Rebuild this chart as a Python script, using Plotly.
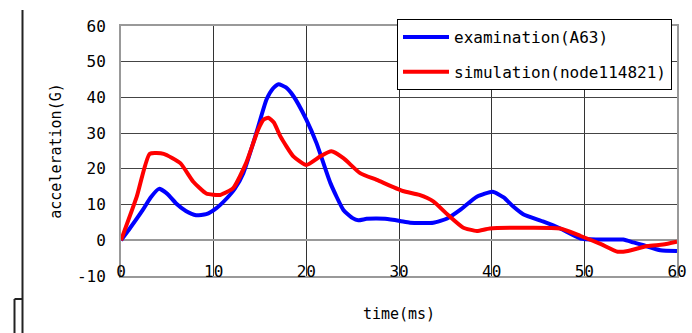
import plotly.graph_objects as go

# ---- data ----
exam_t = [0, 1, 2.35, 3.2, 4.1, 5.0, 5.95, 7.0, 8.1, 9.2, 10.3, 11.4, 12.3, 13.2, 14.6, 15.7, 16.4, 17.0,
          17.8, 18.6, 20.0, 21.1, 22.6, 24.0, 25.0, 25.6, 26.5, 27.6, 28.5, 30.1, 31.2, 33.7, 35.2, 36.6,
          38.4, 40.1, 41.3, 42.3, 43.4, 45.6, 47.4, 49.6, 51.4, 54.2, 55.3, 56.4, 58.2, 60]
exam_v = [0, 3.5, 8.5, 12, 14.4, 13, 10.3, 8.2, 7.0, 7.3, 9, 11.7, 14.5, 18.8, 30, 39.4, 42.5, 43.7,
          42.8, 40.4, 33.8, 27.2, 16, 8.5, 6.2, 5.6, 6.0, 6.1, 6.0, 5.4, 4.9, 4.9, 6.1, 8.5,
          12.2, 13.6, 12, 9.5, 7.3, 5.2, 3.3, 0.5, 0.2, 0.2, -0.6, -1.4, -2.8, -3]

sim_t = [0, 1.7, 3.1, 4.6, 6.4, 7.8, 9.2, 10.7, 12.1, 13.5, 14.8, 15.4, 15.9, 16.5, 17.2, 18.6, 20.0,
         21.5, 22.7, 24.0, 25.8, 27.6, 30.4, 32.2, 33.7, 35.2, 36.9, 38.4, 39.8, 47.4, 49.6, 51.8,
         53.6, 54.7, 56.8, 58.5, 60]
sim_v = [0, 12.2, 24.2, 24.2, 21.6, 16.4, 13.1, 12.7, 14.6, 21.6, 31, 33.8, 34.3, 33.0, 29.1, 23.5, 21.1,
         23.5, 24.9, 23, 18.8, 16.9, 13.8, 12.7, 10.9, 7.3, 3.6, 2.6, 3.3, 3.3, 1.2, -1.1,
         -3.2, -3, -1.6, -1.2, -0.4]

x_ticks = [0, 10, 20, 30, 40, 50, 60]
y_ticks = [-10, 0, 10, 20, 30, 40, 50, 60]

FONT = "DejaVu Sans Mono"

fig = go.Figure()
fig.add_trace(go.Scatter(x=exam_t, y=exam_v, mode="lines", name="examination(A63)",
                         line=dict(color="#0000ff", width=4, shape="spline", smoothing=0.5),
                         legendgroup="a"))
fig.add_trace(go.Scatter(x=sim_t, y=sim_v, mode="lines", name="simulation(node114821)",
                         line=dict(color="#ff0000", width=4, shape="spline", smoothing=0.5),
                         legendgroup="b"))

# left-side page artifacts (lines from the source document)
L = 121.0
W = 556.0
B = 276.0
H = 250.0
def px(x):
    return (x - L) / W
def py(y):
    return (B - y) / H

shapes = [
    dict(type="line", xref="paper", yref="paper", x0=px(22.5), x1=px(22.5), y0=py(10), y1=py(333),
         line=dict(color="#222", width=2)),
    dict(type="line", xref="paper", yref="paper", x0=px(14.5), x1=px(22.5), y0=py(299), y1=py(299),
         line=dict(color="#222", width=2)),
    dict(type="line", xref="paper", yref="paper", x0=px(14.5), x1=px(14.5), y0=py(299), y1=py(333),
         line=dict(color="#222", width=2)),
]

fig.update_layout(
    width=692, height=333,
    margin=dict(l=121, r=15, t=26, b=57, autoexpand=False),
    paper_bgcolor="white", plot_bgcolor="white",
    font=dict(family=FONT, color="black", size=16),
    showlegend=True,
    legend=dict(x=px(397), y=py(19), xanchor="left", yanchor="top",
                bgcolor="white", bordercolor="black", borderwidth=1,
                font=dict(family=FONT, size=16), tracegroupgap=11,
                traceorder="grouped", itemwidth=46),
    shapes=shapes,
)
fig.update_xaxes(range=[0, 60], tickvals=x_ticks, ticktext=[str(v) for v in x_ticks],
                 ticks="", ticklabelstandoff=-20, automargin=False,
                 showgrid=True, gridcolor="#333", gridwidth=1,
                 showline=True, linecolor="#999", linewidth=2, mirror=True, zeroline=False,
                 tickfont=dict(family=FONT, size=16),
                 title=dict(text="time(ms)", font=dict(family=FONT, size=15), standoff=28))
fig.update_yaxes(range=[-10, 60], tickvals=y_ticks, ticktext=[str(v) for v in y_ticks],
                 ticks="", ticklabelstandoff=10, automargin=False,
                 showgrid=True, gridcolor="#444", gridwidth=1,
                 showline=True, linecolor="#999", linewidth=2, mirror=True,
                 zeroline=True, zerolinecolor="#999", zerolinewidth=2,
                 tickfont=dict(family=FONT, size=16),
                 title=dict(text="acceleration(G)", font=dict(family=FONT, size=15), standoff=12))

fig.write_html("out.html", config={"displayModeBar": False},
               post_script="document.body.style.margin='0';document.body.style.overflow='hidden';")
